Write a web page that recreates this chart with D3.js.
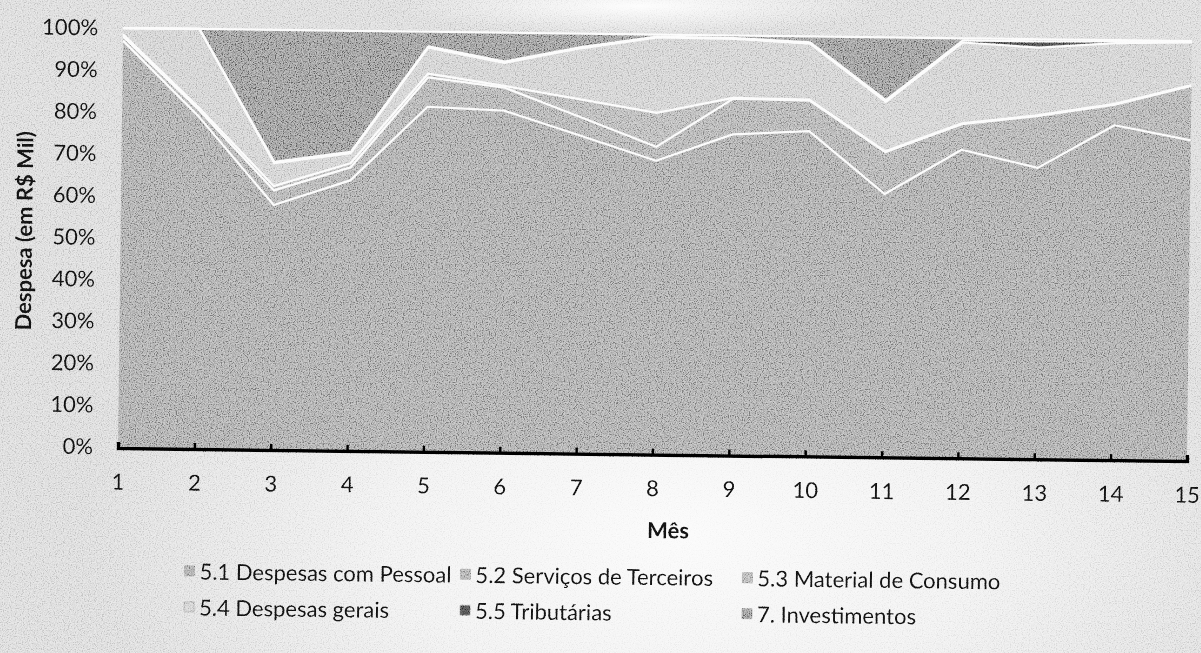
<!DOCTYPE html>
<html>
<head>
<meta charset="utf-8">
<script src="https://cdn.jsdelivr.net/npm/d3@7"></script>
<style>
  html, body { margin: 0; padding: 0; background: #dadada; }
  svg { display: block; }
</style>
</head>
<body>
<div id="chart"></div>
<script>
// Chart data (share of monthly spending)
const months = [1, 2, 3, 4, 5, 6, 7, 8, 9, 10, 11, 12, 13, 14, 15];
const seriesNames = [
  '5.1 Despesas com Pessoal',
  '5.2 Serviços de Terceiros',
  '5.3 Material de Consumo',
  '5.4 Despesas gerais',
  '5.5 Tributárias',
  '7. Investimentos'
];
const pessoal = [97, 79.2, 58.2, 64.3, 82.1, 81.4, 75.7, 69.9, 76.4, 77.4, 62.6, 73.4, 69.3, 79.7, 76.3];
const servicos = [1, 1.6, 3.5, 3.1, 7.0, 5.5, 4.4, 3.3, 8.5, 7.3, 10.0, 6.1, 12.4, 4.9, 13.0];
const material = [0.5, 0.5, 1.0, 1.0, 0.9, 0.4, 4.2, 8.1, 0.2, 0.2, 0.2, 0.2, 0.2, 0.2, 0.2];
const gerais = [1.5, 18.7, 5.5, 2.4, 6.2, 5.5, 12.2, 18.0, 14.1, 13.4, 11.8, 19.3, 16.1, 14.5, 10.2];
const tributarias = [0, 0, 0.3, 0.3, 0.3, 0.3, 0.3, 0.2, 0.2, 0.3, 0.4, 0.5, 1.5, 0.4, 0.1];
const investimentos = [0, 0, 31.5, 28.9, 3.5, 6.9, 3.2, 0.5, 0.6, 1.4, 15.0, 0.5, 0.5, 0.3, 0.2];
const yTicks = [0, 0.1, 0.2, 0.3, 0.4, 0.5, 0.6, 0.7, 0.8, 0.9, 1];

// Settings
const WIDTH = 1201;
const HEIGHT = 653;
const FONT = 'Lato, "Open Sans", sans-serif';
const FONT_SIZE = '22px';
const margin = { top: 28, right: 14, bottom: 206, left: 118 };
const TILT = 0.7; // the scanned page is slightly rotated
const colors = ['#a5a5a5', '#acacac', '#b3b3b3', '#cecece', '#4c4c4c', '#939393'];
const legendPos = [
  { x: 191, y: 570 }, { x: 467, y: 570 }, { x: 749, y: 570 },
  { x: 191, y: 606 }, { x: 467, y: 606 }, { x: 749, y: 606 }
];

const valueLists = [pessoal, servicos, material, gerais, tributarias, investimentos];
const table = months.map((m, i) => {
  const row = { month: m };
  seriesNames.forEach((name, s) => { row[name] = valueLists[s][i]; });
  return row;
});

const svg = d3.select('#chart').append('svg')
  .attr('width', WIDTH)
  .attr('height', HEIGHT);

// Paper background with lighter patches, as in the scan
const defs = svg.append('defs');
const glow = defs.append('radialGradient').attr('id', 'paper')
  .attr('cx', 0.57).attr('cy', 0.82).attr('r', 0.5);
glow.append('stop').attr('offset', '0%').attr('stop-color', '#fafafa');
glow.append('stop').attr('offset', '50%').attr('stop-color', '#efefef');
glow.append('stop').attr('offset', '100%').attr('stop-color', '#d8d8d8');
const topGlow = defs.append('radialGradient').attr('id', 'topglow')
  .attr('cx', 0.5).attr('cy', 0.5).attr('r', 0.5);
topGlow.append('stop').attr('offset', '0%').attr('stop-color', '#fdfdfd').attr('stop-opacity', 1);
topGlow.append('stop').attr('offset', '100%').attr('stop-color', '#fdfdfd').attr('stop-opacity', 0);

// Grain centred on mid grey so an overlay blend keeps the tones
const grain = defs.append('filter').attr('id', 'grain')
  .attr('x', 0).attr('y', 0).attr('width', '100%').attr('height', '100%');
grain.append('feTurbulence').attr('type', 'fractalNoise')
  .attr('baseFrequency', 0.85).attr('numOctaves', 2).attr('seed', 4);
grain.append('feColorMatrix').attr('type', 'matrix')
  .attr('values', '2.6 0 0 0 -0.8  2.6 0 0 0 -0.8  2.6 0 0 0 -0.8  0 0 0 0 1');

svg.append('rect').attr('width', WIDTH).attr('height', HEIGHT).attr('fill', 'url(#paper)');
svg.append('ellipse').attr('cx', 640).attr('cy', 6).attr('rx', 240).attr('ry', 28)
  .attr('fill', 'url(#topglow)');

const g = svg.append('g')
  .attr('transform', `rotate(${TILT}, ${margin.left}, ${HEIGHT - margin.bottom})`);

const x = d3.scaleLinear().domain([1, 15]).range([margin.left, WIDTH - margin.right]);
const y = d3.scaleLinear().domain([0, 1]).range([HEIGHT - margin.bottom, margin.top]);

const stacked = d3.stack().keys(seriesNames).offset(d3.stackOffsetExpand)(table);

const area = d3.area()
  .x(d => x(d.data.month))
  .y0(d => y(d[0]))
  .y1(d => y(d[1]));

const edge = d3.line()
  .x(d => x(d.data.month))
  .y(d => y(d[1]));

g.selectAll('.layer')
  .data(stacked)
  .enter()
  .append('path')
  .attr('class', 'layer')
  .attr('d', area)
  .attr('fill', (d, i) => colors[i]);

// White separators on top of each layer
g.selectAll('.edge')
  .data(stacked)
  .enter()
  .append('path')
  .attr('class', 'edge')
  .attr('d', edge)
  .attr('fill', 'none')
  .attr('stroke', '#fbfbfb')
  .attr('stroke-width', 2.2)
  .attr('stroke-linejoin', 'round');

// Axes
const xAxis = d3.axisBottom(x)
  .tickValues(months)
  .tickFormat(d3.format('d'))
  .tickSizeInner(-6)
  .tickSizeOuter(-6)
  .tickPadding(26);

const xg = g.append('g')
  .attr('transform', `translate(0,${HEIGHT - margin.bottom + 1})`)
  .call(xAxis);
xg.select('.domain').attr('stroke', '#000').attr('stroke-width', 3.5);
xg.selectAll('.tick line').attr('stroke', '#000').attr('stroke-width', 2.5);
xg.selectAll('.tick text')
  .attr('fill', '#111')
  .style('font-family', FONT)
  .style('font-size', FONT_SIZE);

const yAxis = d3.axisLeft(y)
  .tickValues(yTicks)
  .tickFormat(d3.format('.0%'))
  .tickSize(0)
  .tickPadding(25);

const yg = g.append('g')
  .attr('transform', `translate(${margin.left},0)`)
  .call(yAxis);
yg.select('.domain').remove();
yg.selectAll('.tick text')
  .attr('fill', '#111')
  .style('font-family', FONT)
  .style('font-size', FONT_SIZE);

// Axis titles
g.append('text')
  .attr('transform', 'translate(21,232) rotate(-90)')
  .attr('text-anchor', 'middle')
  .attr('dominant-baseline', 'central')
  .style('font-family', FONT)
  .style('font-size', FONT_SIZE)
  .style('font-weight', 'bold')
  .attr('fill', '#111')
  .text('Despesa (em R$ Mil)');

g.append('text')
  .attr('x', 669)
  .attr('y', 523)
  .attr('text-anchor', 'middle')
  .attr('dominant-baseline', 'central')
  .style('font-family', FONT)
  .style('font-size', FONT_SIZE)
  .style('font-weight', 'bold')
  .attr('fill', '#111')
  .text('Mês');

// Legend
const legend = g.selectAll('.legend-item')
  .data(seriesNames)
  .enter()
  .append('g')
  .attr('class', 'legend-item')
  .attr('transform', (d, i) => `translate(${legendPos[i].x},${legendPos[i].y})`);

legend.append('rect')
  .attr('x', -5).attr('y', -5)
  .attr('width', 10).attr('height', 10)
  .attr('fill', (d, i) => colors[i])
  .attr('stroke', '#888')
  .attr('stroke-width', 0.6);

legend.append('text')
  .attr('x', 10)
  .attr('dominant-baseline', 'central')
  .style('font-family', FONT)
  .style('font-size', FONT_SIZE)
  .attr('fill', '#111')
  .text(d => d);

// Scan grain over everything
svg.append('rect')
  .attr('width', WIDTH).attr('height', HEIGHT)
  .attr('filter', 'url(#grain)')
  .attr('opacity', 0.45)
  .style('mix-blend-mode', 'overlay')
  .style('pointer-events', 'none');
</script>
</body>
</html>
